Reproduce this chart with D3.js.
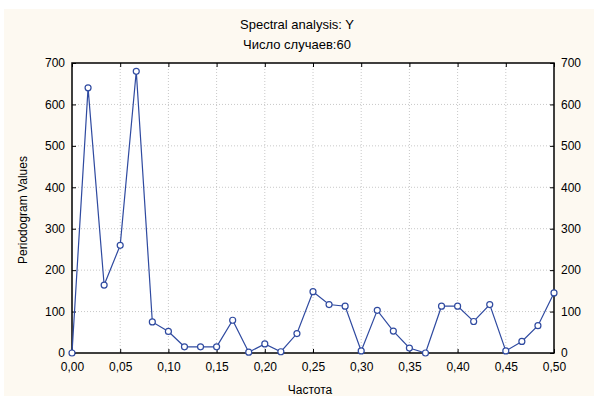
<!DOCTYPE html>
<html>
<head>
<meta charset="utf-8">
<script src="https://cdn.jsdelivr.net/npm/d3@7"></script>
<style>
  body { margin: 0; background: #fff; }
  text { font-family: "Liberation Sans", Arial, sans-serif; fill: #000; }
</style>
</head>
<body>
<svg id="chart" width="594" height="396"></svg>
<script>
// frequencies k/60, k = 0..30
let frequencies = d3.range(31).map(k => k / 60);
let periodogram = [0, 640, 164, 260, 680, 75, 52, 15, 15, 15,
                   79, 2, 22, 3, 47, 148, 117, 113, 5, 103,
                   53, 12, 0, 113, 113, 76, 117, 5, 28, 66, 145];
let xTicks = [0, 0.05, 0.10, 0.15, 0.20, 0.25, 0.30, 0.35, 0.40, 0.45, 0.50];
let yTicks = [0, 100, 200, 300, 400, 500, 600, 700];

let svg = d3.select('#chart');

svg.append('rect')
    .attr('x', 4).attr('y', 9)
    .attr('width', 590).attr('height', 387)
    .attr('fill', '#fdf9f1');

let plotLeft = 72, plotRight = 554, plotTop = 63, plotBottom = 353;

let xScale = d3.scaleLinear().domain([0, 0.5]).range([plotLeft, plotRight]);
let yScale = d3.scaleLinear().domain([0, 700]).range([plotBottom, plotTop]);

svg.append('rect')
    .attr('x', plotLeft).attr('y', plotTop)
    .attr('width', plotRight - plotLeft).attr('height', plotBottom - plotTop)
    .attr('fill', '#fff');

// grid
svg.append('g')
    .selectAll('line')
    .data(xTicks.slice(1, -1))
    .enter()
    .append('line')
    .attr('x1', d => xScale(d)).attr('x2', d => xScale(d))
    .attr('y1', plotTop).attr('y2', plotBottom)
    .attr('stroke', '#c8c8c8')
    .attr('stroke-dasharray', '1,2');

svg.append('g')
    .selectAll('line')
    .data(yTicks.slice(1, -1))
    .enter()
    .append('line')
    .attr('x1', plotLeft).attr('x2', plotRight)
    .attr('y1', d => yScale(d)).attr('y2', d => yScale(d))
    .attr('stroke', '#c8c8c8')
    .attr('stroke-dasharray', '1,2');

let fmt = d => d3.format('.2f')(d).replace('.', ',');

// axes with inward ticks
let xAxisBottom = d3.axisBottom(xScale).tickValues(xTicks).tickSize(-4).tickPadding(9).tickFormat(fmt);
let xAxisTop = d3.axisTop(xScale).tickValues(xTicks).tickSize(-4).tickFormat('');
let yAxisLeft = d3.axisLeft(yScale).tickValues(yTicks).tickSize(-4).tickPadding(7);
let yAxisRight = d3.axisRight(yScale).tickValues(yTicks).tickSize(-4).tickPadding(7);

let styleAxis = (g) => {
    g.select('.domain').remove();
    g.selectAll('line').attr('stroke', '#000');
    g.selectAll('text').style('font-size', '12px').style('font-family', '"Liberation Sans", Arial, sans-serif');
};

svg.append('g').attr('transform', `translate(0,${plotBottom})`).call(xAxisBottom).call(styleAxis);
svg.append('g').attr('transform', `translate(0,${plotTop})`).call(xAxisTop).call(styleAxis);
svg.append('g').attr('transform', `translate(${plotLeft},0)`).call(yAxisLeft).call(styleAxis);
svg.append('g').attr('transform', `translate(${plotRight},0)`).call(yAxisRight).call(styleAxis);

// frame
svg.append('rect')
    .attr('x', plotLeft).attr('y', plotTop)
    .attr('width', plotRight - plotLeft).attr('height', plotBottom - plotTop)
    .attr('fill', 'none')
    .attr('stroke', '#000')
    .attr('stroke-width', 1.5);

// series
let line = d3.line()
    .x((d, i) => xScale(frequencies[i]))
    .y(d => yScale(d));

svg.append('path')
    .datum(periodogram)
    .attr('d', line)
    .attr('fill', 'none')
    .attr('stroke', '#2f4aa0')
    .attr('stroke-width', 1.2);

svg.append('g')
    .selectAll('circle')
    .data(periodogram)
    .enter()
    .append('circle')
    .attr('cx', (d, i) => xScale(frequencies[i]))
    .attr('cy', d => yScale(d))
    .attr('r', 3)
    .attr('fill', '#fff')
    .attr('stroke', '#2f4aa0')
    .attr('stroke-width', 1.2);

// titles
svg.append('text')
    .text('Spectral analysis: Y')
    .attr('x', 297).attr('y', 29)
    .attr('text-anchor', 'middle')
    .style('font-size', '13px');

svg.append('text')
    .text('Число случаев:60')
    .attr('x', 297).attr('y', 49)
    .attr('text-anchor', 'middle')
    .style('font-size', '13px');

svg.append('text')
    .text('Частота')
    .attr('x', 310).attr('y', 394)
    .attr('text-anchor', 'middle')
    .style('font-size', '12px');

svg.append('text')
    .text('Periodogram Values')
    .attr('transform', 'translate(27,210) rotate(-90)')
    .attr('text-anchor', 'middle')
    .style('font-size', '12px');
</script>
</body>
</html>
